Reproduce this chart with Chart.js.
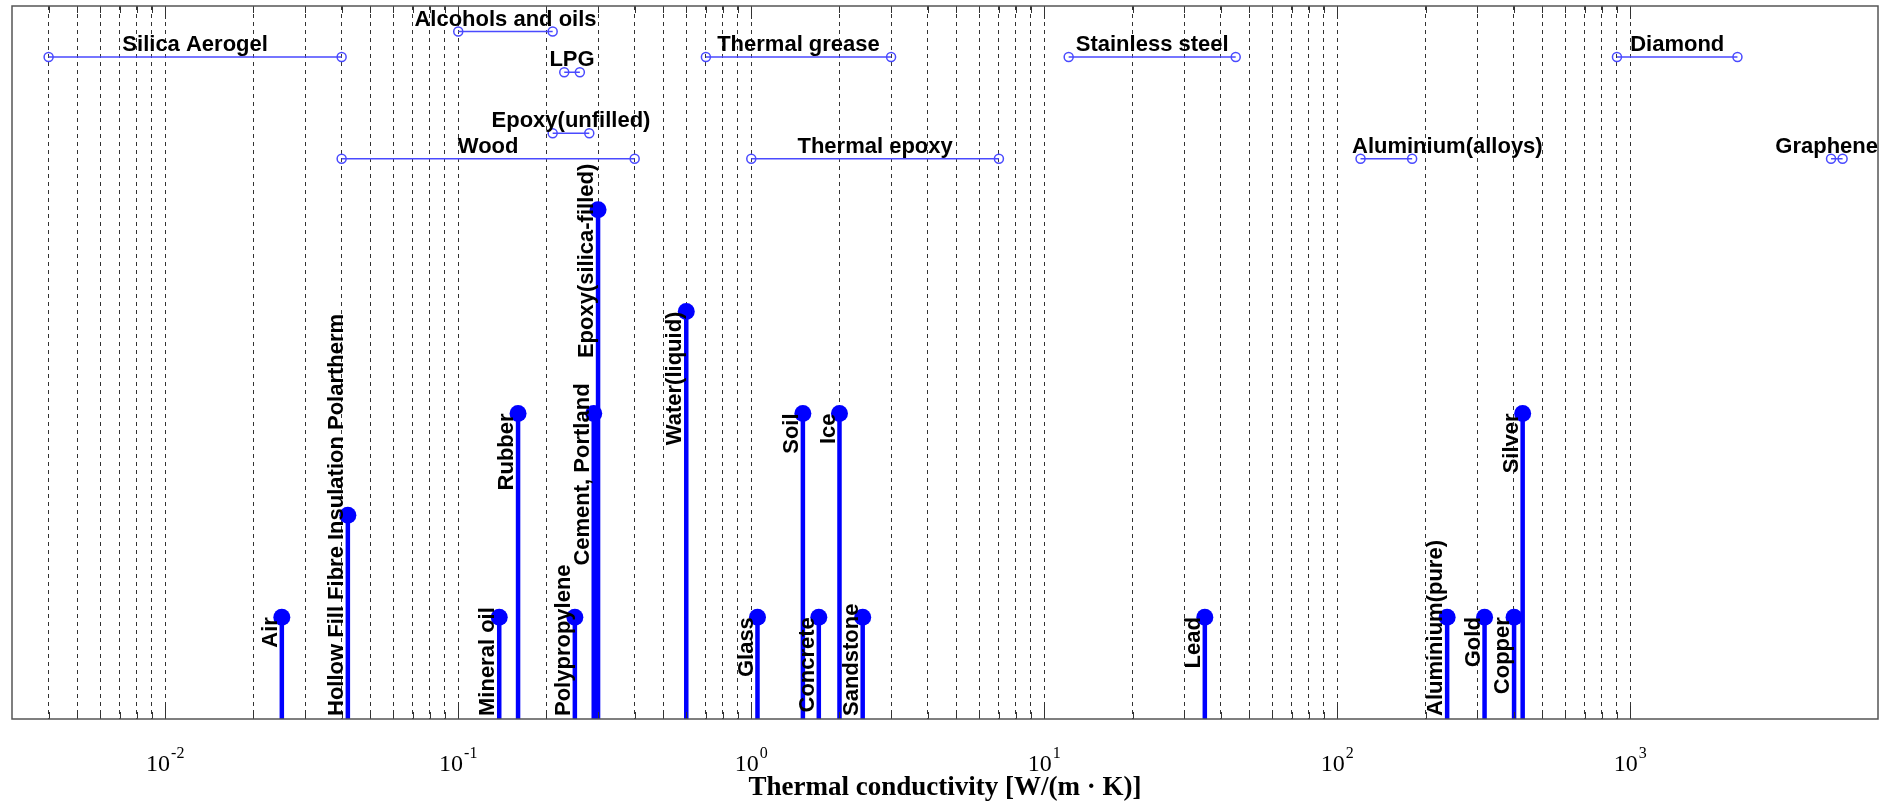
<!DOCTYPE html>
<html lang="en">
<head>
    <meta charset="UTF-8">
    <title>Thermal conductivity of materials</title>
    <script src="https://cdn.jsdelivr.net/npm/chart.js"></script>
    <style>
        html, body { margin: 0; padding: 0; background: #fff; }
        #wrap { width: 1885px; height: 803px; }
    </style>
</head>
<body>
    <div id="wrap"><canvas id="chart"></canvas></div>

    <script>
        // single values, drawn as stems
        const stemNames = ['Air', 'Hollow Fill Fibre Insulation Polartherm', 'Mineral oil', 'Rubber', 'Polypropylene',
            'Cement, Portland', 'Epoxy(silica-filled)', 'Water(liquid)', 'Glass', 'Soil', 'Concrete', 'Ice',
            'Sandstone', 'Lead', 'Aluminium(pure)', 'Gold', 'Copper', 'Silver'];
        const stemValues = [0.025, 0.042, 0.138, 0.16, 0.25, 0.29, 0.30, 0.6, 1.05, 1.5, 1.7, 2, 2.4, 35.3, 237, 318, 401, 429];
        const stemLevels = [1, 2, 1, 3, 1, 3, 5, 4, 1, 3, 1, 3, 1, 1, 1, 1, 1, 3];

        // ranges, drawn as bars with open circles at the ends
        const rangeNames = ['Silica Aerogel', 'Alcohols and oils', 'LPG', 'Thermal grease', 'Stainless steel', 'Diamond',
            'Epoxy(unfilled)', 'Wood', 'Thermal epoxy', 'Aluminium(alloys)', 'Graphene'];
        const rangeLow = [0.004, 0.1, 0.23, 0.7, 12.11, 900, 0.21, 0.04, 1, 120, 4840];
        const rangeHigh = [0.04, 0.21, 0.26, 3, 45, 2320, 0.28, 0.4, 7, 180, 5300];
        const rangeLevels = [6.5, 6.75, 6.35, 6.5, 6.5, 6.5, 5.75, 5.5, 5.5, 5.5, 5.5];

        // axis
        const decadeExponents = [-2, -1, 0, 1, 2, 3];
        const xTitle = 'Thermal conductivity [W/(m \u00b7 K)]';

        const BLUE = '#0000ff';
        const RANGE_BLUE = '#4a4aff';
        const LABEL_FONT = 'bold 22px "Liberation Sans", Arial, sans-serif';
        const SERIF = '"Liberation Serif", "Times New Roman", serif';

        // a few labels sit higher than the rule puts them (px)
        const stemLabelLift = { 'Cement, Portland': 30, 'Epoxy(silica-filled)': 46 };
        const rangeLabelShift = { 'Aluminium(alloys)': 61 };

        // grid at 4e-3 .. 1e3, every 1..9 of each decade
        const gridValues = [];
        for (let e = -3; e <= 2; e++) {
            for (let m = 1; m <= 9; m++) {
                const v = +(m * Math.pow(10, e)).toPrecision(3);
                if (v >= 0.004) gridValues.push(v);
            }
        }
        gridValues.push(1000);
        const isDecade = v => Math.abs(Math.log10(v) - Math.round(Math.log10(v))) < 1e-9;

        const stemPoints = [];
        stemValues.forEach((v, i) => {
            stemPoints.push({ x: v, y: 0 }, { x: v, y: stemLevels[i], top: true }, { x: v, y: null });
        });

        const rangePoints = [];
        rangeLow.forEach((lo, i) => {
            rangePoints.push({ x: lo, y: rangeLevels[i] }, { x: rangeHigh[i], y: rangeLevels[i] }, { x: rangeHigh[i], y: null });
        });

        const overlay = {
            id: 'overlay',
            afterDatasetsDraw(chart) {
                const { ctx, chartArea: a, scales: { x, y } } = chart;
                ctx.save();

                // inward tick marks, bottom and top
                ctx.strokeStyle = '#333';
                ctx.lineWidth = 1;
                gridValues.forEach(v => {
                    const px = Math.round(x.getPixelForValue(v)) + 0.5;
                    const len = isDecade(v) ? 13 : 7;
                    ctx.beginPath();
                    ctx.moveTo(px, a.bottom);
                    ctx.lineTo(px, a.bottom - len);
                    ctx.moveTo(px, a.top);
                    ctx.lineTo(px, a.top + len);
                    ctx.stroke();
                });

                // frame
                ctx.strokeStyle = '#555';
                ctx.lineWidth = 1.5;
                ctx.strokeRect(a.left, a.top, a.right - a.left, a.bottom - a.top);

                // stem labels, vertical, ending at the dot
                ctx.font = LABEL_FONT;
                ctx.fillStyle = '#000';
                stemNames.forEach((name, i) => {
                    const px = x.getPixelForValue(stemValues[i]);
                    const py = y.getPixelForValue(stemLevels[i]);
                    const len = ctx.measureText(name).width;
                    const end = Math.min(py, a.bottom - 3 - len) - (stemLabelLift[name] || 0);
                    ctx.save();
                    ctx.translate(px, end);
                    ctx.rotate(-Math.PI / 2);
                    ctx.textAlign = 'right';
                    ctx.textBaseline = 'bottom';
                    ctx.fillText(name, 0, 0);
                    ctx.restore();
                });

                // range labels, above the bar
                ctx.textAlign = 'center';
                ctx.textBaseline = 'bottom';
                rangeNames.forEach((name, i) => {
                    const w = ctx.measureText(name).width;
                    let px = (x.getPixelForValue(rangeLow[i]) + x.getPixelForValue(rangeHigh[i])) / 2 + (rangeLabelShift[name] || 0);
                    px = Math.min(px, a.right - w / 2);
                    const py = y.getPixelForValue(rangeLevels[i]);
                    ctx.fillText(name, px, py - 1);
                });

                // decade labels 10^n
                ctx.textAlign = 'left';
                ctx.textBaseline = 'alphabetic';
                decadeExponents.forEach(e => {
                    const px = x.getPixelForValue(Math.pow(10, e));
                    ctx.font = '24px ' + SERIF;
                    const w1 = ctx.measureText('10').width;
                    ctx.font = '16px ' + SERIF;
                    const sup = String(e);
                    const w2 = ctx.measureText(sup).width;
                    const x0 = px - (w1 + w2 + 1) / 2;
                    ctx.font = '24px ' + SERIF;
                    ctx.fillText('10', x0, a.bottom + 52);
                    ctx.font = '16px ' + SERIF;
                    ctx.fillText(sup, x0 + w1 + 1, a.bottom + 39);
                });

                // axis title
                ctx.font = 'bold 27px ' + SERIF;
                ctx.textAlign = 'center';
                ctx.fillText(xTitle, (a.left + a.right) / 2, a.bottom + 76);

                ctx.restore();
            }
        };

        new Chart(document.getElementById('chart'), {
            type: 'scatter',
            data: {
                datasets: [{
                    data: stemPoints,
                    showLine: true,
                    borderColor: BLUE,
                    borderWidth: 4.5,
                    pointRadius: c => (c.raw && c.raw.top ? 8.5 : 0),
                    pointHoverRadius: c => (c.raw && c.raw.top ? 8.5 : 0),
                    pointBackgroundColor: BLUE,
                    pointBorderWidth: 0
                }, {
                    data: rangePoints,
                    showLine: true,
                    borderColor: RANGE_BLUE,
                    borderWidth: 1.5,
                    pointRadius: 4.5,
                    pointHoverRadius: 4.5,
                    pointBackgroundColor: 'rgba(0,0,0,0)',
                    pointBorderColor: RANGE_BLUE,
                    pointBorderWidth: 1.5
                }]
            },
            plugins: [overlay],
            options: {
                responsive: true,
                maintainAspectRatio: false,
                animation: false,
                events: [],
                layout: { padding: { left: 12, right: 7, top: 3, bottom: 84 } },
                plugins: {
                    legend: { display: false },
                    tooltip: { enabled: false }
                },
                scales: {
                    x: {
                        type: 'logarithmic',
                        min: 0.003,
                        max: 7000,
                        afterBuildTicks: scale => {
                            scale.ticks = gridValues.map(v => ({ value: v }));
                        },
                        ticks: { display: false },
                        grid: { color: 'rgba(0,0,0,0.8)', lineWidth: 1, drawTicks: false },
                        border: { display: false, dash: [4, 4] }
                    },
                    y: {
                        type: 'linear',
                        min: 0,
                        max: 7,
                        display: false
                    }
                }
            }
        });
    </script>
</body>
</html>
